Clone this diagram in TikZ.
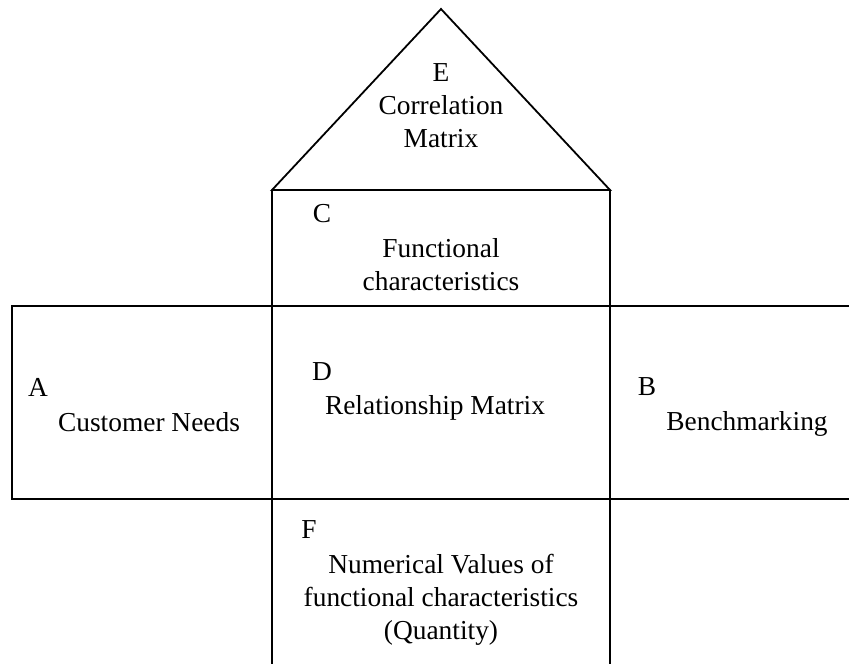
\documentclass[tikz,border=0pt]{standalone}
\usepackage{fontspec}
\setmainfont{Liberation Serif}
\usetikzlibrary{positioning}

\begin{document}
\begin{tikzpicture}[x=0.5pt, y=-0.5pt, line width=0.9pt]
  % Styles
  \tikzstyle{tag} = [inner sep=0pt, font=\fontsize{13.7}{16.5}\selectfont]
  \tikzstyle{boxtext} = [inner sep=0pt, align=center, font=\fontsize{13.7}{16.5}\selectfont]

  \useasboundingbox (0,0) rectangle (849,664);

  % Outline of the house
  \draw (272,190) -- (441,9) -- (610,190) -- cycle;
  \draw (272,190) -- (272,664);
  \draw (610,190) -- (610,664);
  \draw (849,306) -- (12,306) -- (12,499) -- (849,499);

  % Roof
  \node[boxtext] (roof) at (441,106) {E\\Correlation\\Matrix};

  % Upper column
  \node[tag] (c) at (322,214) {C};
  \node[boxtext] (func) at (441,265) {Functional\\characteristics};

  % Middle row
  \node[tag] (a) at (38,387) {A};
  \node[boxtext] (needs) at (149,422) {Customer Needs};
  \node[tag] (d) at (322,372) {D};
  \node[boxtext] (relation) at (435,408) {Relationship Matrix};
  \node[tag] (b) at (647,387) {B};
  \node[boxtext] (bench) at (747,424) {Benchmarking};

  % Lower column
  \node[tag] (f) at (309,530) {F};
  \node[boxtext] (values) at (441,600) {Numerical Values of\\functional characteristics\\(Quantity)};
\end{tikzpicture}
\end{document}
